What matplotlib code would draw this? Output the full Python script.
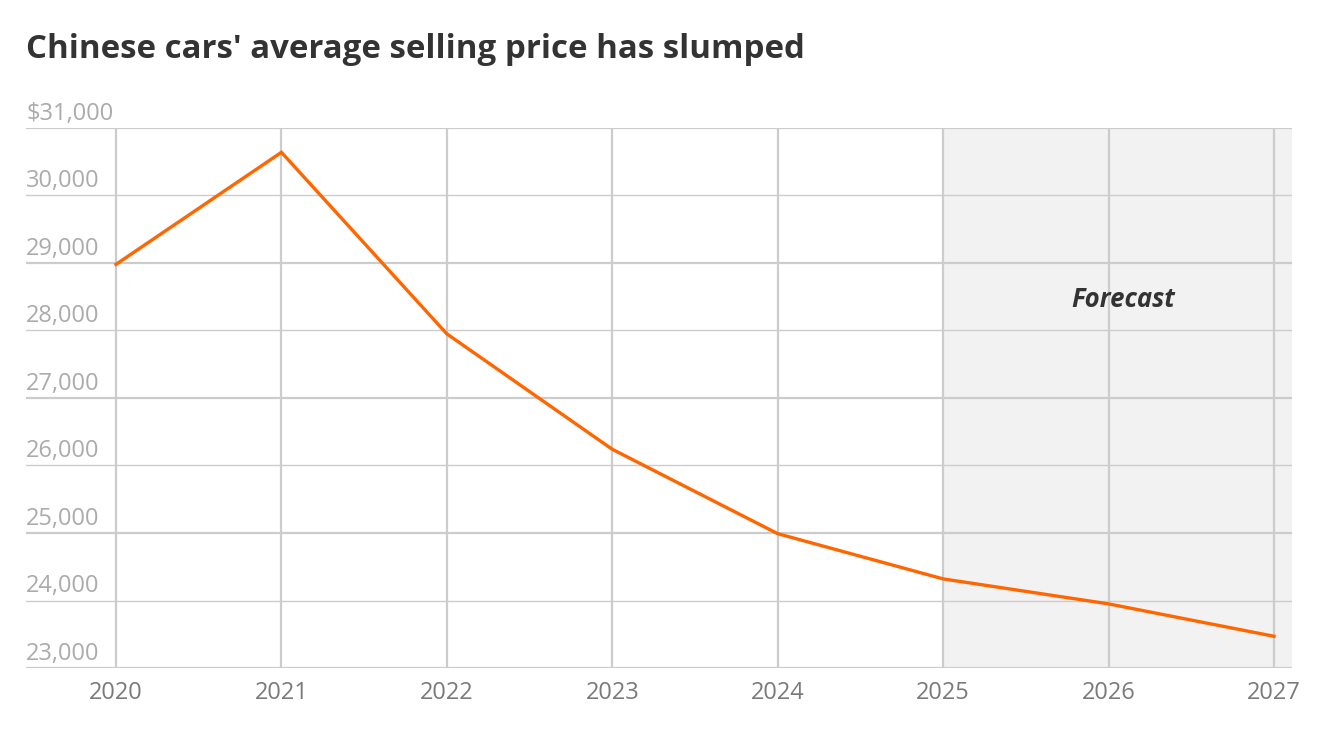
import matplotlib.pyplot as plt
import matplotlib.transforms as mtransforms

years = [2020, 2021, 2022, 2023, 2024, 2025, 2026, 2027]
avg_price = [28980, 30640, 27950, 26240, 24990, 24320, 23950, 23470]
y_ticks = [23000, 24000, 25000, 26000, 27000, 28000, 29000, 30000, 31000]
y_labels = ['23,000', '24,000', '25,000', '26,000', '27,000', '28,000',
            '29,000', '30,000', '$31,000']
forecast_start = 2025

plt.rcParams['font.family'] = ['Open Sans', 'DejaVu Sans']

fig = plt.figure(figsize=(13.36, 7.32), dpi=100)
ax = fig.add_axes([26 / 1336, 1 - 668 / 732, (1292 - 26) / 1336, (668 - 128) / 732])

x0 = 2020 - 90 / 165.43
x1 = 2027 + 18 / 165.43
ax.set_xlim(x0, x1)
ax.set_ylim(23000, 31000)

# forecast shading
ax.axvspan(forecast_start, x1, color='#f2f2f2', zorder=0, lw=0)

# grid
for v in y_ticks:
    thick = (v - 23000) % 2000 == 0
    ax.axhline(v, color='#cccccc', lw=1.6 if thick else 1.0, zorder=1)
for yr in years:
    ax.axvline(yr, color='#cccccc', lw=1.6, zorder=1)

ax.plot(years, avg_price, color='#ff6600', lw=2.4, zorder=3, solid_joinstyle='miter')

for s in ax.spines.values():
    s.set_visible(False)
ax.set_xticks([])
ax.set_yticks([])

trans = mtransforms.blended_transform_factory(ax.transAxes, ax.transData)
offset = mtransforms.offset_copy(trans, fig=fig, x=0, y=1.5, units='points')
for v, lab in zip(y_ticks, y_labels):
    ax.text(0, v, lab, transform=offset, ha='left', va='bottom',
            fontsize=17, color='#ababab')

for yr in years:
    ax.text(yr, 22630, str(yr), ha='center', va='center', fontsize=17,
            color='#7a7a7a', clip_on=False)

ax.text(2026.09, 28460, 'Forecast', ha='center', va='center', fontsize=18.5,
        fontweight='bold', fontstyle='italic', color='#333333')

fig.text(26 / 1336, 1 - 49 / 732, "Chinese cars' average selling price has slumped",
         ha='left', va='center', fontsize=23.8, fontweight='bold', color='#333333')

fig.savefig('out.png', dpi=100, facecolor='white')
